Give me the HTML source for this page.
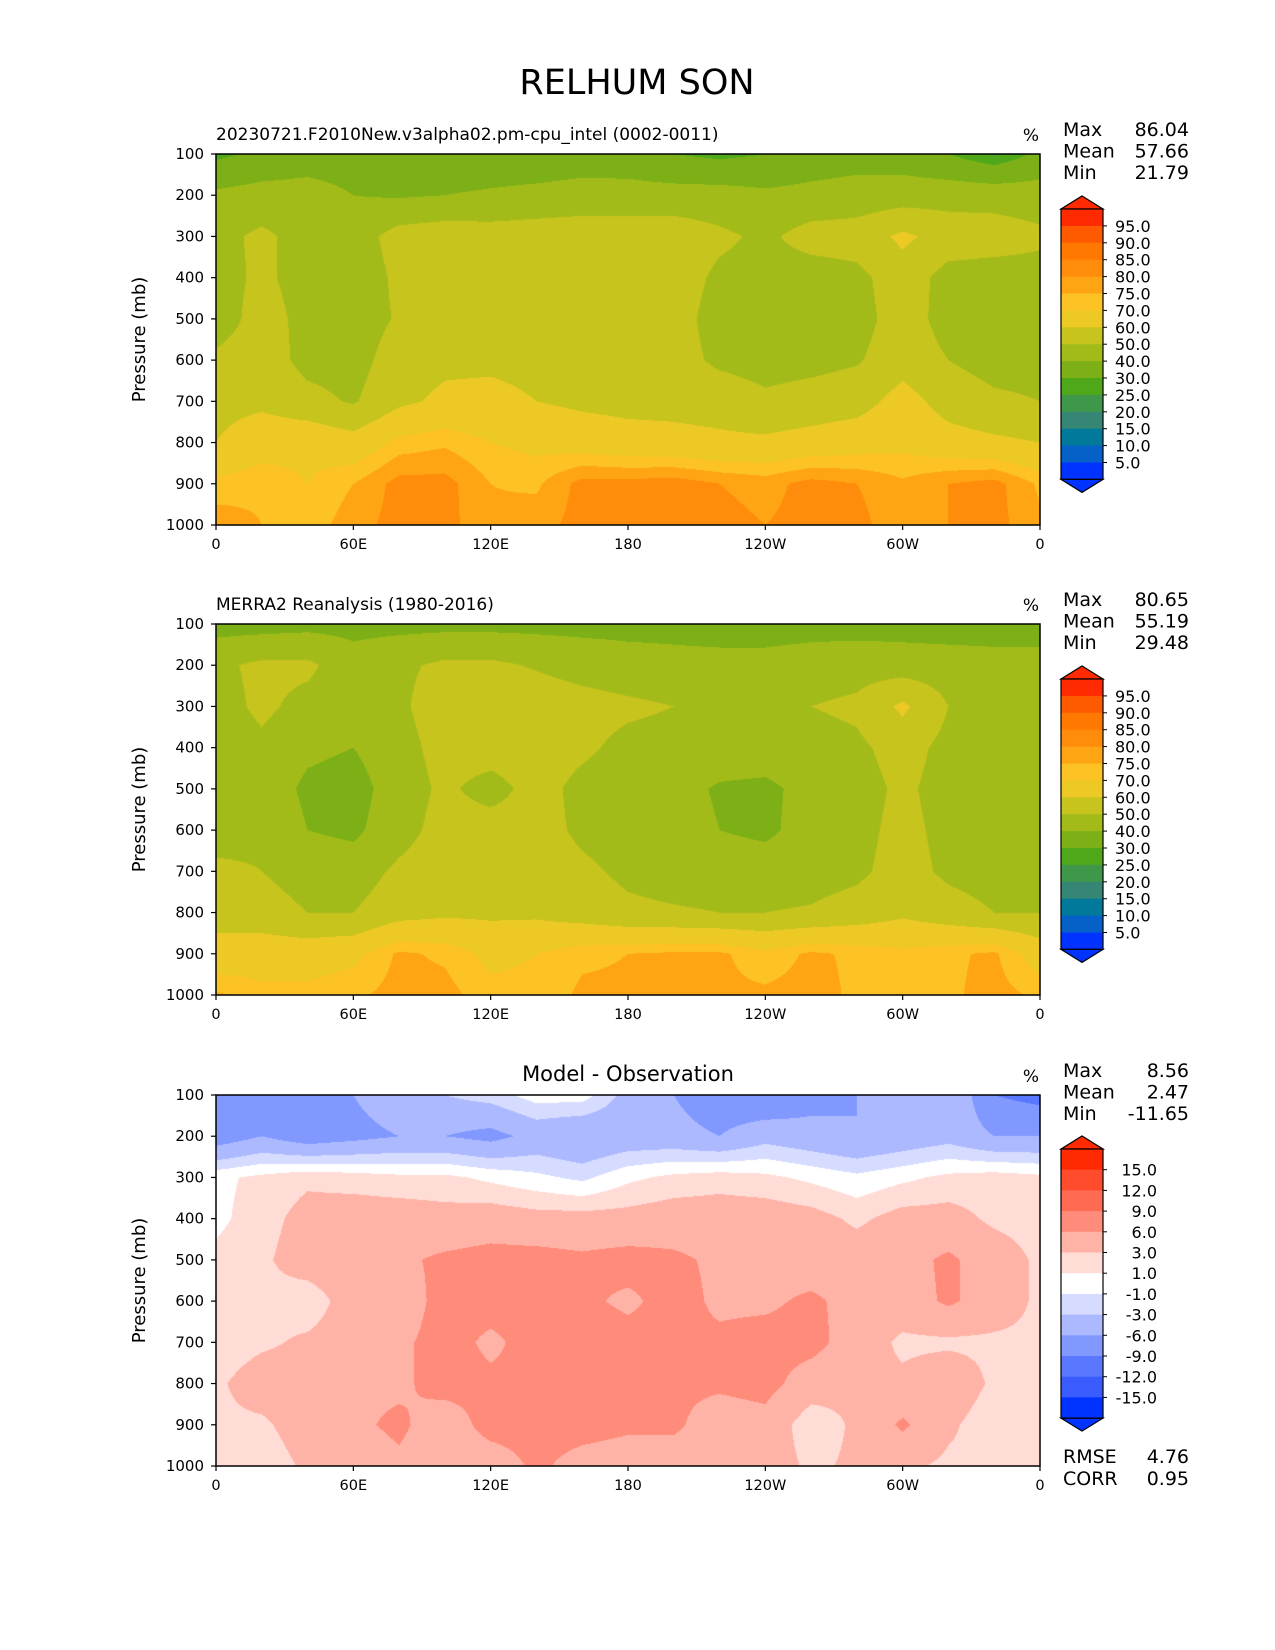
<!DOCTYPE html>
<html><head><meta charset="utf-8">
<style>
body{margin:0;background:#fff;}
#wrap{position:relative;width:1275px;height:1650px;overflow:hidden;background:#fff;font-family:"DejaVu Sans","Liberation Sans",sans-serif;}
canvas{position:absolute;}
svg{position:absolute;left:0;top:0;}
text{font-family:"DejaVu Sans","Liberation Sans",sans-serif;fill:#000;}
</style></head>
<body>
<div id="wrap">
<canvas id="c0" width="824" height="371" style="left:216px;top:154px"></canvas>
<canvas id="c1" width="824" height="371" style="left:216px;top:624px"></canvas>
<canvas id="c2" width="824" height="371" style="left:216px;top:1095px"></canvas>
<svg id="s" width="1275" height="1650">
<text x="637" y="94" font-size="35" text-anchor="middle">RELHUM SON</text>
</svg>
</div>
<script>
// ---- data ----
const lons = [0,20,40,60,80,100,120,140,160,180,200,220,240,260,280,300,320,340,360];
const levels = [100,200,300,400,500,600,700,800,900,1000];
const modelRH = [
[28,32,35,35,35,35,35,35,36,34,30,28,30,34,36,35,30,24,32],
[42,44,44,40,39,40,41,42,43,44,44,44,42,43,44,45,46,46,45],
[47,52,46,45,54,56,55,56,57,56,56,52,48,54,55,62,56,55,52],
[46,52,46,44,52,56,57,58,57,56,55,48,46,45,47,56,46,45,46],
[45,54,47,45,51,56,57,57,57,56,54,46,45,45,46,55,46,45,45],
[52,55,47,46,55,58,58,57,57,56,54,48,46,47,49,56,50,46,46],
[57,58,53,49,58,62,63,60,58,57,57,56,52,54,56,64,56,52,50],
[60,66,68,64,72,74,70,68,66,64,63,62,62,64,66,68,64,62,60],
[72,74,70,75,82,82,75,74,82,82,83,80,78,82,80,76,80,82,74],
[78,75,72,78,82,82,76,78,82,82,82,82,80,82,82,76,80,82,76]];
const obsRH = [
[36,36,37,37,37,37,37,37,37,37,37,36,36,36,36,36,35,35,35],
[48,52,52,44,48,52,52,49,46,44,43,43,43,45,46,45,45,44,44],
[46,52,47,44,48,56,56,56,54,52,50,48,48,50,52,62,50,47,46],
[44,48,42,40,46,54,55,55,52,47,46,45,45,46,48,54,47,45,45],
[44,46,38,36,45,52,46,54,47,44,43,39,38,43,46,52,46,45,45],
[46,48,40,38,46,54,55,54,48,45,44,40,38,44,47,53,47,45,45],
[52,50,46,45,52,56,56,56,52,48,46,45,45,46,48,54,48,46,46],
[56,54,50,50,56,58,58,58,55,52,51,50,50,51,54,58,54,50,50],
[64,66,66,68,76,74,68,70,74,75,76,76,72,76,74,72,74,76,66],
[76,72,72,74,77,77,72,72,76,76,76,76,76,77,74,72,74,77,74]];
const diffRH = [
[-9,-6,-7,-6,-4,-3,-2,0,0,-4,-6,-8,-9,-7,-6,-4,-3,-9,-10],
[-8,-6,-8,-7,-6,-6,-7,-5,-6,-5,-5,-6,-4,-5,-6,-5,-4,-6,-6],
[0.5,1.5,2.5,2,1.5,1.5,0.5,-0.5,-1.5,0.5,1.5,2,1.5,0.5,-0.5,0.5,1.5,2,1.5],
[0.5,2,4,4.5,4.5,4,4.5,4,4,4,4.5,4.5,4.5,4,2.5,4,4,2.5,2],
[1.5,2.5,4.5,5,5.5,6.5,7,7,6.5,7,6.5,5.5,5,4.5,4.5,5,6.5,4.5,2.5],
[2,2.5,1.5,4.5,4.5,7,7,7,6.5,5.5,7,5.5,5.5,6.5,5,4.5,6.5,4.5,2.5],
[1.5,2.5,3.5,4.5,5.5,7,5.5,7,7.5,7,6.5,6.5,7,7,4.5,2.5,2.5,2.5,2.5],
[2.5,4.5,4.5,5.5,5.5,7,6.5,6.5,8,6.5,6.5,6.5,7,4.5,3.5,3.5,5,2.5,2.5],
[2.5,2.5,4.5,5.5,6.5,4.5,7,7,7,6.5,6.5,4.5,5,1.5,3.5,6.5,3.5,1.5,2.5],
[2.5,1.5,3.5,4.5,5.5,4.5,4.5,6.5,5,4.5,4.5,4.5,4.5,2.5,3.5,3.5,2.5,2.5,2.5]];
const rhBounds = [0,5,10,15,20,25,30,40,50,60,70,75,80,85,90,95,100];
const rhColors = ["#0033ff","#0560c8","#00799a","#358675","#3f984a","#4fa81a","#7cb016","#a3bb19","#c8c41e","#ecc925","#fdc224","#ffa514","#ff8c0a","#ff7800","#ff5a00","#ff2a00"];
const rhTicks = ["95.0","90.0","85.0","80.0","75.0","70.0","60.0","50.0","40.0","30.0","25.0","20.0","15.0","10.0","5.0"];
const dfBounds = [-15,-12,-9,-6,-3,-1,1,3,6,9,12,15];
const dfColors = ["#0033ff","#3a5cff","#5978ff","#8199ff","#adb9ff","#d6dcff","#ffffff","#ffdcd6","#ffb3a6","#ff8c7a","#ff6a52","#ff4c2c","#ff2a00"];
const dfTicks = ["15.0","12.0","9.0","6.0","3.0","1.0","-1.0","-3.0","-6.0","-9.0","-12.0","-15.0"];
const xTicks = ["0","60E","120E","180","120W","60W","0"];
const xTickLons = [0,60,120,180,240,300,360];
const yTicks = [100,200,300,400,500,600,700,800,900,1000];
const stats = [
 {sub:"20230721.F2010New.v3alpha02.pm-cpu_intel (0002-0011)",vals:["86.04","57.66","21.79"]},
 {sub:"MERRA2 Reanalysis (1980-2016)",vals:["80.65","55.19","29.48"]},
 {sub:"Model - Observation",vals:["8.56","2.47","-11.65"]}];

// ---- geometry ----
const PX=216, PW=824, PH=371, tops=[154,624,1095];
const xScale = lon => PX + lon/360*PW;
const yScale = (p,top) => top + (p-100)/900*PH;

function hex(h){return [parseInt(h.substr(1,2),16),parseInt(h.substr(3,2),16),parseInt(h.substr(5,2),16)];}
function colorFor(v,bounds,cols){
  if(bounds[0]===0){
    for(let i=1;i<bounds.length;i++) if(v<bounds[i]) return cols[i-1];
    return cols[cols.length-1];
  } else {
    for(let i=0;i<bounds.length;i++) if(v<bounds[i]) return cols[i];
    return cols[cols.length-1];
  }
}
function drawField(id,grid,bounds,cols){
  const cv=document.getElementById(id),ctx=cv.getContext('2d');
  const img=ctx.createImageData(PW,PH);
  const nx=lons.length-1, ny=levels.length-1;
  for(let py=0;py<PH;py++){
    const p=100+(py+0.5)/PH*900;
    let j=Math.min(ny-1,Math.floor((p-100)/100)); let fy=(p-levels[j])/(levels[j+1]-levels[j]);
    for(let px=0;px<PW;px++){
      const lon=(px+0.5)/PW*360;
      let i=Math.min(nx-1,Math.floor(lon/20)); let fx=(lon-lons[i])/(lons[i+1]-lons[i]);
      const v=grid[j][i]*(1-fx)*(1-fy)+grid[j][i+1]*fx*(1-fy)+grid[j+1][i]*(1-fx)*fy+grid[j+1][i+1]*fx*fy;
      const c=hex(colorFor(v+1e-6,bounds,cols));
      const k=(py*PW+px)*4; img.data[k]=c[0];img.data[k+1]=c[1];img.data[k+2]=c[2];img.data[k+3]=255;
    }
  }
  ctx.putImageData(img,0,0);
}
drawField('c0',modelRH,rhBounds,rhColors);
drawField('c1',obsRH,rhBounds,rhColors);
drawField('c2',diffRH,dfBounds,dfColors);

// ---- annotations ----
const NS="http://www.w3.org/2000/svg", svg=document.getElementById('s');
function mk(tag,attrs,txt){const e=document.createElementNS(NS,tag);for(const k in attrs)e.setAttribute(k,attrs[k]);if(txt!==undefined)e.textContent=txt;svg.appendChild(e);return e;}
for(let n=0;n<3;n++){
  const top=tops[n], off=top-154;
  let e=mk('rect',{x:PX,y:top,width:PW,height:PH,fill:'none',stroke:'#000','stroke-width':1.5});
  
  
  yTicks.forEach(p=>{const y=yScale(p,top);
    let t=mk('line',{x1:PX-5,x2:PX,y1:y,y2:y,stroke:'#000','stroke-width':1.2});
    
    
    let l=mk('text',{x:PX-12,y:y+5,'font-size':15,'text-anchor':'end'},String(p));
    
    });
  xTickLons.forEach((lon,i)=>{const x=xScale(lon);
    let t=mk('line',{x1:x,x2:x,y1:top+PH,y2:top+PH+5,stroke:'#000','stroke-width':1.2});
    
    
    let l=mk('text',{x:x,y:top+PH+24,'font-size':14.5,'text-anchor':'middle'},xTicks[i]);
    
    });
  let yl=mk('text',{x:0,y:0,'font-size':18,'text-anchor':'middle',transform:`translate(145,${top+PH/2}) rotate(-90)`},'Pressure (mb)');
  
  
  let st = n<2 ? mk('text',{x:PX,y:140+off,'font-size':17},stats[n].sub) : mk('text',{x:PX+PW/2,y:1081,'font-size':21,'text-anchor':'middle'},stats[n].sub);
  
  
  let pc=mk('text',{x:1039,y:141+off,'font-size':17,'text-anchor':'end'},'%');
  
  
  ["Max","Mean","Min"].forEach((k,i)=>{
    let a=mk('text',{x:1063,y:136+off+i*21.5,'font-size':19},k);
    
    
    let b=mk('text',{x:1189,y:136+off+i*21.5,'font-size':19,'text-anchor':'end'},stats[n].vals[i]);
    
    });
  const cx=1061,cw=42;
  if(n<2){
    const rt=209+off, bin=16.9, nb=rhColors.length;
    mk('polygon',{points:`${cx},${rt} ${cx+cw/2},${rt-13} ${cx+cw},${rt}`,fill:rhColors[nb-1],stroke:'#000','stroke-width':1.2});
    for(let b=0;b<nb;b++){let r=mk('rect',{x:cx,y:rt+b*bin,width:cw,height:bin+0.5,fill:rhColors[nb-1-b]});
      
      }
    const rb=rt+nb*bin;
    mk('polygon',{points:`${cx},${rb} ${cx+cw/2},${rb+13} ${cx+cw},${rb}`,fill:rhColors[0],stroke:'#000','stroke-width':1.2});
    mk('rect',{x:cx,y:rt,width:cw,height:nb*bin,fill:'none',stroke:'#000','stroke-width':1.2});
    rhTicks.forEach((t,i)=>{const y=rt+bin*(i+1);
      mk('line',{x1:cx+cw,x2:cx+cw+4,y1:y,y2:y,stroke:'#000'});
      let l=mk('text',{x:cx+cw+12,y:y+6,'font-size':16},t);
      
      });
  } else {
    const rt=1149, bin=20.7, nb=dfColors.length;
    mk('polygon',{points:`${cx},${rt} ${cx+cw/2},${rt-13} ${cx+cw},${rt}`,fill:dfColors[nb-1],stroke:'#000','stroke-width':1.2});
    for(let b=0;b<nb;b++){let r=mk('rect',{x:cx,y:rt+b*bin,width:cw,height:bin+0.5,fill:dfColors[nb-1-b]});
      
      }
    const rb=rt+nb*bin;
    mk('polygon',{points:`${cx},${rb} ${cx+cw/2},${rb+13} ${cx+cw},${rb}`,fill:dfColors[0],stroke:'#000','stroke-width':1.2});
    mk('rect',{x:cx,y:rt,width:cw,height:nb*bin,fill:'none',stroke:'#000','stroke-width':1.2});
    dfTicks.forEach((t,i)=>{const y=rt+bin*(i+1);
      mk('line',{x1:cx+cw,x2:cx+cw+4,y1:y,y2:y,stroke:'#000'});
      let l=mk('text',{x:1157,y:y+6,'font-size':16,'text-anchor':'end'},t);
      
      });
    [["RMSE","4.76"],["CORR","0.95"]].forEach((r,i)=>{
      let a=mk('text',{x:1063,y:1463+i*22,'font-size':19},r[0]);
      
      
      let b=mk('text',{x:1189,y:1463+i*22,'font-size':19,'text-anchor':'end'},r[1]);
      
      });
  }
}
</script>
</body></html>
